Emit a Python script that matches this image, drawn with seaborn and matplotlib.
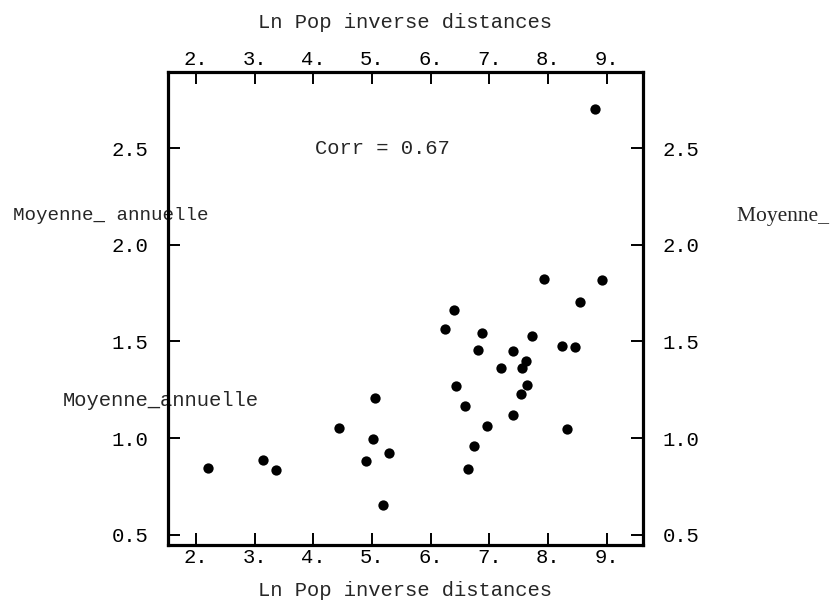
import matplotlib
matplotlib.use("Agg")
import matplotlib.pyplot as plt
import seaborn as sns
import pandas as pd

# Ln population weighted by inverse distances, and the annual mean
ln_pop = [2.21, 3.15, 3.36, 4.44, 5.02, 4.90, 5.29, 5.18, 6.64, 6.74,
          6.40, 6.24, 6.88, 7.73, 8.55, 6.81, 7.41, 8.24, 8.46, 7.63,
          7.20, 7.56, 6.44, 7.65, 7.54, 5.05, 6.58, 7.41, 6.96, 8.33,
          8.81, 7.93, 8.92]
moyenne = [0.846, 0.889, 0.834, 1.055, 0.998, 0.882, 0.925, 0.656, 0.839, 0.958,
           1.665, 1.567, 1.546, 1.529, 1.705, 1.456, 1.451, 1.479, 1.472, 1.399,
           1.363, 1.363, 1.270, 1.277, 1.229, 1.210, 1.167, 1.122, 1.063, 1.050,
           2.700, 1.821, 1.817]
x_ticks = [2, 3, 4, 5, 6, 7, 8, 9]
x_ticklabels = ["2.", "3.", "4.", "5.", "6.", "7.", "8.", "9."]
y_ticks = [0.5, 1.0, 1.5, 2.0, 2.5]
y_ticklabels = ["0.5", "1.0", "1.5", "2.0", "2.5"]
corr_text = "Corr = 0.67"
x_title = "Ln Pop inverse distances"
y_title = "Moyenne_annuelle"
y_title_alt = "Moyenne_ annuelle"

df = pd.DataFrame({"ln_pop": ln_pop, "moyenne": moyenne})

sns.set_style("white")
plt.rcParams["font.family"] = ["Liberation Mono", "DejaVu Sans Mono"]
FS = 14.8

W, H = 834, 601
fig = plt.figure(figsize=(W / 100, H / 100), dpi=100)
L, R, T, B = 168, 643, 72, 545
ax = fig.add_axes([L / W, 1 - B / H, (R - L) / W, (B - T) / H])

sns.scatterplot(data=df, x="ln_pop", y="moyenne", ax=ax, color="black",
                s=55, marker="o", edgecolor="black", linewidth=0, zorder=3)

ax.set_xlim(1.523, 9.62)
ax.set_ylim(0.448, 2.893)
ax.set_xticks(x_ticks)
ax.set_xticklabels(x_ticklabels)
ax.set_yticks(y_ticks)
ax.set_yticklabels(y_ticklabels)
ax.tick_params(axis="x", which="both", direction="in", length=8.5, width=1.4,
               top=True, bottom=True, labeltop=True, labelbottom=True,
               labelsize=FS, pad=2.5, colors="black")
ax.tick_params(axis="y", which="both", direction="in", length=8.5, width=1.4,
               left=True, right=True, labelleft=True, labelright=True,
               labelsize=FS, pad=14, colors="black")
for sp in ax.spines.values():
    sp.set_visible(True)
    sp.set_linewidth(2.3)
    sp.set_color("black")
ax.set_xlabel("")
ax.set_ylabel("")
ax.grid(False)

# Axis titles above and below the frame
fig.text(405 / W, 1 - 22 / H, x_title, ha="center", va="center", fontsize=FS)
fig.text(405 / W, 1 - 590 / H, x_title, ha="center", va="center", fontsize=FS)

# Y titles on the left, placed under the frame
ax.text(13 / W, 1 - 216 / H, y_title_alt, transform=fig.transFigure,
        ha="left", va="center", fontsize=13.8, zorder=1, clip_on=False)
ax.text(63 / W, 1 - 401 / H, y_title, transform=fig.transFigure,
        ha="left", va="center", fontsize=FS, zorder=1, clip_on=False)
# Y title on the right, in a serif face, running off the right edge
fig.text(737 / W, 1 - 216 / H, y_title_alt, ha="left", va="center",
         fontsize=15.5, family=["Liberation Serif", "DejaVu Serif"])

# Correlation note
ax.text(315 / W, 1 - 149 / H, corr_text, transform=fig.transFigure,
        ha="left", va="center", fontsize=FS)

fig.savefig("out.png", dpi=100)
